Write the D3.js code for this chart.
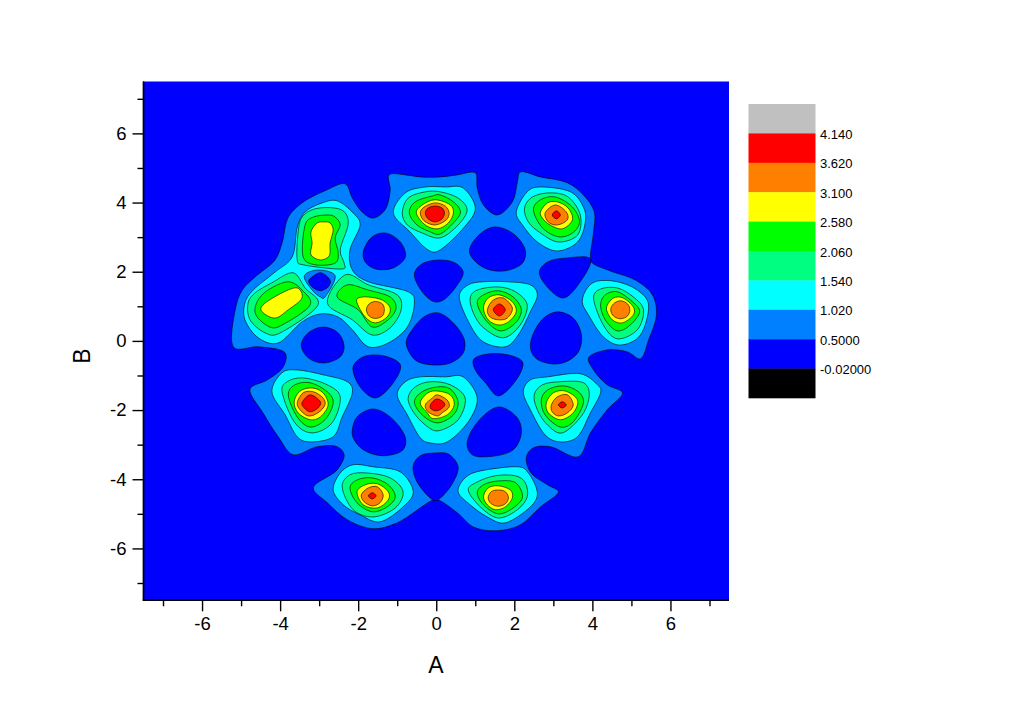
<!DOCTYPE html>
<html><head><meta charset="utf-8">
<script src="https://cdn.jsdelivr.net/npm/d3@7"></script>
<style>html,body{margin:0;padding:0;background:#fff}svg{display:block}text{font-family:"Liberation Sans",Arial,sans-serif;fill:#000}</style>
</head><body><svg id="c" width="1024" height="723"></svg>
<script>
// Contour outlines, as [A, B] pairs.
const level050Outer = [[[-2.33,4.54],[-2.85,4.34],[-3.44,3.99],[-3.79,3.58],[-3.95,2.83],[-4.13,2.34],[-4.64,1.85],[-4.97,1.47],[-5.15,0.90],[-5.18,-0.20],[-4.56,-0.17],[-3.87,-0.35],[-3.92,-0.75],[-4.33,-1.13],[-4.77,-1.39],[-4.44,-2.08],[-4.05,-2.77],[-3.67,-3.29],[-3.05,-3.06],[-2.54,-3.06],[-2.36,-3.29],[-2.54,-3.73],[-3.15,-4.25],[-2.79,-4.68],[-2.28,-5.17],[-1.62,-5.43],[-1.00,-5.26],[-0.08,-4.60],[0.05,-4.60],[0.54,-4.97],[0.95,-5.38],[1.56,-5.49],[2.15,-5.32],[2.67,-4.80],[3.13,-4.36],[2.85,-4.16],[2.41,-3.79],[2.31,-3.35],[2.49,-3.09],[2.92,-3.06],[3.64,-3.35],[3.95,-2.66],[4.38,-1.99],[4.77,-1.50],[4.38,-1.27],[4.03,-0.84],[3.90,-0.49],[4.38,-0.26],[4.90,-0.32],[5.23,-0.52],[5.44,0.03],[5.64,0.75],[5.54,1.33],[5.10,1.76],[4.46,2.02],[4.00,2.25],[3.95,2.37],[4.03,3.15],[4.05,3.73],[3.77,4.22],[3.36,4.57],[2.67,4.74],[2.15,4.88],[2.08,4.60],[1.95,4.02],[1.56,3.64],[1.21,3.93],[1.05,4.42],[1.00,4.86],[0.54,4.80],[0.10,4.74],[-0.41,4.74],[-0.79,4.80],[-1.21,4.80],[-1.18,4.36],[-1.31,3.79],[-1.62,3.55],[-1.90,3.73],[-2.15,4.13]]];
const level050Holes = [
[[-1.87,2.57],[-1.64,3.01],[-1.31,3.12],[-0.92,2.86],[-0.79,2.43],[-1.10,2.11],[-1.56,2.08],[-1.82,2.28]],
[[-0.56,1.94],[-0.36,2.23],[0.10,2.34],[0.49,2.25],[0.69,1.99],[0.54,1.62],[0.18,1.18],[-0.05,1.13],[-0.36,1.42]],
[[0.85,2.57],[1.05,3.01],[1.46,3.29],[1.95,3.12],[2.28,2.63],[2.21,2.25],[1.72,2.02],[1.18,2.14]],
[[2.64,1.99],[2.85,2.28],[3.36,2.40],[3.95,2.37],[3.69,1.71],[3.26,1.24],[2.87,1.53]],
[[3.13,0.84],[3.51,0.66],[3.72,0.17],[3.64,-0.32],[3.31,-0.61],[2.92,-0.66],[2.54,-0.49],[2.41,-0.17],[2.56,0.38],[2.82,0.72]],
[[-0.77,-0.06],[-0.62,0.32],[-0.28,0.72],[0.05,0.81],[0.41,0.55],[0.72,0.03],[0.69,-0.35],[0.36,-0.64],[-0.15,-0.69],[-0.54,-0.55]],
[[0.95,-0.55],[1.21,-0.40],[1.82,-0.40],[2.21,-0.61],[2.10,-1.04],[1.59,-1.59],[1.26,-1.21],[1.00,-0.84]],
[[-2.13,-0.75],[-1.87,-0.46],[-1.36,-0.43],[-0.92,-0.69],[-1.10,-1.21],[-1.56,-1.65],[-1.95,-1.33]],
[[-3.46,-0.12],[-3.28,0.23],[-2.90,0.40],[-2.51,0.23],[-2.36,-0.17],[-2.46,-0.46],[-2.90,-0.64],[-3.28,-0.49]],
[[-2.15,-2.57],[-2.03,-2.20],[-1.62,-1.97],[-1.18,-2.20],[-0.79,-2.80],[-0.85,-3.15],[-1.36,-3.32],[-1.87,-3.15],[-2.13,-2.80]],
[[0.79,-3.01],[1.00,-2.43],[1.59,-1.91],[2.08,-2.23],[2.18,-2.66],[1.97,-3.15],[1.31,-3.35],[0.92,-3.29]],
[[-0.59,-3.61],[-0.41,-3.32],[0,-3.24],[0.31,-3.27],[0.56,-3.64],[0.36,-4.22],[0.03,-4.60],[-0.08,-4.60],[-0.49,-4.08]]
];
const level102 = [
[[-2.54,4.05],[-2.92,3.99],[-3.36,3.73],[-3.56,3.29],[-3.69,2.43],[-4.13,1.99],[-4.69,1.47],[-4.90,1.10],[-4.90,0.61],[-4.56,0.09],[-4.05,-0.06],[-3.44,0.55],[-2.97,0.78],[-2.51,0.69],[-2.15,0.32],[-1.74,-0.17],[-1.23,-0.06],[-0.74,0.40],[-0.56,1.10],[-0.72,1.42],[-1.74,1.71],[-2.15,2.05],[-2.21,2.63],[-1.95,3.35],[-2.13,3.70]],
[[-1.10,3.70],[-0.79,4.28],[-0.28,4.45],[0.23,4.45],[0.69,4.42],[1.00,3.84],[0.72,3.29],[0.10,2.63],[-0.21,2.63],[-0.67,3.15]],
[[2.05,3.73],[2.33,4.31],[2.67,4.45],[3.44,4.31],[3.77,3.87],[3.82,3.44],[3.62,2.86],[3.10,2.60],[2.59,2.86],[2.21,3.35]],
[[0.59,1.27],[0.82,1.62],[1.21,1.71],[1.82,1.71],[2.41,1.62],[2.59,1.33],[2.41,0.84],[2.10,0.17],[1.77,-0.17],[1.21,-0.03],[0.87,0.46]],
[[3.74,1.13],[3.87,1.53],[4.13,1.73],[4.64,1.71],[5.15,1.47],[5.44,1.04],[5.23,0.17],[4.72,-0.12],[4.28,0.12],[3.90,0.75]],
[[-4.21,-1.47],[-3.95,-0.92],[-3.56,-0.84],[-2.90,-0.98],[-2.28,-1.18],[-2.15,-1.50],[-2.41,-2.20],[-2.64,-2.77],[-3.23,-2.92],[-3.56,-2.77],[-3.87,-2.14]],
[[-1.00,-1.56],[-0.79,-1.18],[-0.41,-1.04],[0.23,-1.04],[0.69,-1.04],[1.05,-1.65],[0.82,-2.34],[0.28,-2.92],[-0.15,-2.95],[-0.41,-2.80],[-0.74,-2.14]],
[[2.23,-1.47],[2.41,-1.13],[2.85,-1.04],[3.69,-0.95],[4.13,-1.27],[4.21,-1.50],[3.95,-2.08],[3.62,-2.77],[3.18,-2.92],[2.79,-2.72],[2.41,-1.99]],
[[-2.64,-4.31],[-2.46,-3.82],[-2.13,-3.58],[-1.62,-3.64],[-0.92,-3.79],[-0.59,-4.36],[-0.85,-4.80],[-1.44,-5.23],[-1.95,-5.03],[-2.38,-4.74]],
[[0.56,-4.36],[0.74,-3.96],[1.13,-3.76],[2.08,-3.64],[2.36,-3.82],[2.59,-4.39],[2.41,-4.80],[1.77,-5.26],[1.31,-5.09],[0.87,-4.74]]
];
const pocket050 = [[[-3.38,1.88],[-3.03,2.05],[-2.59,1.88],[-2.85,1.27],[-2.97,1.27],[-3.18,1.47]]];
const pocketHole = [[[-3.26,1.76],[-2.97,1.97],[-2.72,1.76],[-2.77,1.56],[-2.97,1.45],[-3.18,1.56]]];
const level154 = [
[[-2.59,3.84],[-3.10,3.82],[-3.44,3.58],[-3.54,3.12],[-3.56,2.34],[-3.41,2.20],[-2.41,2.08],[-2.36,2.25],[-2.46,2.63],[-2.26,3.35],[-2.33,3.70]],
[[-3.67,1.97],[-4.21,1.68],[-4.64,1.39],[-4.82,1.10],[-4.77,0.61],[-4.38,0.23],[-4.00,0.23],[-3.03,1.04],[-3.36,1.53]],
[[-2.33,1.91],[-2.79,1.10],[-2.15,0.61],[-1.64,0.17],[-1.18,0.38],[-0.90,0.90],[-1.00,1.33],[-1.74,1.62]],
[[-0.87,3.70],[-0.72,4.13],[-0.28,4.31],[0.10,4.31],[0.56,4.13],[0.79,3.79],[0.56,3.35],[0.10,2.98],[-0.36,3.12],[-0.74,3.35]],
[[2.26,3.84],[2.46,4.16],[2.92,4.28],[3.38,4.16],[3.69,3.64],[3.62,3.06],[3.13,2.86],[2.67,3.12],[2.36,3.44]],
[[0.87,1.24],[1.05,1.47],[1.59,1.56],[2.03,1.42],[2.33,1.04],[2.15,0.46],[1.72,0.09],[1.21,0.38],[0.95,0.81]],
[[4.03,1.24],[4.21,1.50],[4.64,1.53],[5.05,1.27],[5.31,0.90],[5.15,0.32],[4.64,0.06],[4.28,0.46]],
[[-3.95,-1.47],[-3.82,-1.18],[-3.41,-1.07],[-2.79,-1.27],[-2.46,-1.62],[-2.67,-2.37],[-3.18,-2.66],[-3.62,-2.37]],
[[-0.72,-1.65],[-0.54,-1.33],[-0.15,-1.18],[0.36,-1.27],[0.74,-1.65],[0.56,-2.28],[0.05,-2.60],[-0.28,-2.43],[-0.59,-2.05]],
[[2.51,-1.56],[2.72,-1.27],[3.18,-1.18],[3.77,-1.21],[3.92,-1.56],[3.74,-2.14],[3.23,-2.66],[2.85,-2.43],[2.59,-1.99]],
[[-2.41,-4.22],[-2.21,-3.87],[-1.77,-3.82],[-1.18,-3.96],[-0.85,-4.36],[-1.05,-4.83],[-1.62,-5.09],[-2.13,-4.88]],
[[0.82,-4.31],[1.05,-4.08],[1.51,-3.90],[2.03,-3.90],[2.28,-4.10],[2.33,-4.51],[2.08,-4.88],[1.59,-5.12],[1.13,-4.80]]
];
const level206 = [
[[-2.77,3.64],[-3.15,3.58],[-3.36,3.35],[-3.41,2.43],[-3.10,2.20],[-2.59,2.25],[-2.51,2.54],[-2.59,2.98],[-2.46,3.35],[-2.59,3.58]],
[[-3.79,1.71],[-4.31,1.47],[-4.59,1.13],[-4.62,0.75],[-4.26,0.40],[-3.95,0.46],[-3.23,1.04],[-3.44,1.47]],
[[-2.28,1.62],[-2.54,1.27],[-2.00,0.90],[-1.64,0.40],[-1.23,0.61],[-1.03,0.95],[-1.18,1.27],[-1.74,1.47]],
[[-0.69,3.70],[-0.54,4.02],[-0.10,4.19],[0.10,4.22],[0.44,4.02],[0.62,3.73],[0.44,3.41],[0.10,3.09],[-0.15,3.15],[-0.49,3.35]],
[[2.49,3.79],[2.67,4.08],[3.05,4.16],[3.49,3.87],[3.67,3.44],[3.49,3.12],[3.13,3.01],[2.72,3.27]],
[[1.05,1.10],[1.21,1.33],[1.59,1.45],[1.97,1.27],[2.18,0.90],[2.03,0.52],[1.64,0.29],[1.26,0.61]],
[[4.21,1.04],[4.33,1.33],[4.64,1.42],[5.03,1.13],[5.21,0.84],[4.97,0.46],[4.64,0.29],[4.33,0.61]],
[[-3.79,-1.56],[-3.62,-1.27],[-3.23,-1.21],[-2.79,-1.47],[-2.64,-1.79],[-2.85,-2.28],[-3.23,-2.49],[-3.56,-2.20]],
[[-0.56,-1.76],[-0.36,-1.47],[0.03,-1.33],[0.36,-1.39],[0.56,-1.76],[0.44,-2.14],[0.03,-2.37],[-0.36,-2.14]],
[[2.69,-1.71],[2.85,-1.42],[3.26,-1.30],[3.64,-1.47],[3.77,-1.79],[3.51,-2.34],[3.18,-2.49],[2.79,-2.14]],
[[-2.21,-4.25],[-2.03,-4.02],[-1.64,-3.96],[-1.23,-4.16],[-1.05,-4.51],[-1.26,-4.80],[-1.64,-4.94],[-2.03,-4.68]],
[[1.05,-4.39],[1.21,-4.16],[1.59,-4.05],[2.03,-4.10],[2.21,-4.51],[1.97,-4.83],[1.59,-5.00],[1.21,-4.74]]
];
const level258 = [
[[-2.85,3.44],[-3.05,3.41],[-3.21,3.15],[-3.18,2.83],[-3.21,2.49],[-2.97,2.34],[-2.74,2.46],[-2.72,2.83],[-2.64,3.21],[-2.72,3.41]],
[[-3.56,1.53],[-3.95,1.39],[-4.44,1.04],[-4.46,0.84],[-4.13,0.66],[-3.79,0.90],[-3.44,1.24]],
[[-2.00,1.24],[-2.03,1.10],[-1.82,0.69],[-1.56,0.52],[-1.26,0.69],[-1.18,0.95],[-1.38,1.18],[-1.74,1.27]],
[[-0.51,3.70],[-0.36,3.93],[-0.03,4.08],[0.36,3.93],[0.44,3.70],[0.31,3.41],[0.03,3.24],[-0.28,3.35]],
[[2.67,3.73],[2.85,3.99],[3.10,4.02],[3.38,3.84],[3.49,3.50],[3.23,3.24],[2.92,3.35],[2.72,3.55]],
[[1.21,0.95],[1.33,1.24],[1.62,1.33],[1.95,1.13],[2.05,0.84],[1.85,0.55],[1.59,0.46],[1.33,0.61]],
[[4.36,0.95],[4.54,1.24],[4.79,1.24],[5.05,0.98],[5.05,0.75],[4.77,0.52],[4.51,0.61]],
[[-3.64,-1.76],[-3.49,-1.45],[-3.18,-1.36],[-2.90,-1.50],[-2.77,-1.85],[-2.97,-2.20],[-3.23,-2.28],[-3.54,-2.08]],
[[-0.41,-1.79],[-0.21,-1.50],[0.03,-1.45],[0.36,-1.56],[0.46,-1.85],[0.28,-2.14],[-0.08,-2.25],[-0.23,-2.08]],
[[2.82,-1.79],[3.00,-1.50],[3.31,-1.45],[3.62,-1.71],[3.51,-2.08],[3.18,-2.28],[2.87,-2.08]],
[[-2.03,-4.36],[-1.82,-4.16],[-1.51,-4.13],[-1.23,-4.36],[-1.23,-4.60],[-1.51,-4.83],[-1.87,-4.74]],
[[1.21,-4.51],[1.33,-4.25],[1.59,-4.19],[1.90,-4.31],[1.95,-4.54],[1.77,-4.80],[1.51,-4.88],[1.31,-4.74]]
];
const level310 = [
[[-1.79,0.90],[-1.72,1.07],[-1.56,1.14],[-1.38,1.07],[-1.33,0.90],[-1.38,0.72],[-1.56,0.65],[-1.72,0.72]],
[[-0.41,3.70],[-0.31,3.87],[-0.03,3.99],[0.23,3.90],[0.33,3.70],[0.26,3.50],[-0.03,3.35],[-0.31,3.47]],
[[2.79,3.70],[3.05,3.93],[3.33,3.73],[3.36,3.50],[3.10,3.35],[2.87,3.44]],
[[1.31,0.90],[1.46,1.18],[1.72,1.24],[1.95,0.95],[1.82,0.66],[1.59,0.61],[1.38,0.69]],
[[4.47,0.90],[4.54,1.07],[4.72,1.16],[4.90,1.07],[4.96,0.90],[4.90,0.72],[4.72,0.64],[4.54,0.72]],
[[-3.56,-1.79],[-3.41,-1.50],[-3.15,-1.47],[-2.90,-1.65],[-2.85,-1.85],[-3.03,-2.08],[-3.28,-2.17],[-3.49,-1.99]],
[[-0.28,-1.85],[-0.10,-1.65],[0.03,-1.56],[0.28,-1.71],[0.33,-1.91],[0.15,-2.08],[0.03,-2.17],[-0.21,-2.05]],
[[2.95,-1.85],[3.10,-1.62],[3.36,-1.56],[3.51,-1.85],[3.36,-2.08],[3.13,-2.17],[2.97,-2.05]],
[[-1.92,-4.45],[-1.74,-4.25],[-1.51,-4.22],[-1.36,-4.45],[-1.44,-4.68],[-1.64,-4.77],[-1.85,-4.65]],
[[1.33,-4.54],[1.41,-4.36],[1.59,-4.31],[1.77,-4.36],[1.85,-4.54],[1.77,-4.71],[1.59,-4.78],[1.41,-4.71]]
];
const level362 = [
[[-0.28,3.70],[-0.21,3.84],[-0.03,3.90],[0.15,3.84],[0.21,3.70],[0.15,3.53],[-0.03,3.44],[-0.21,3.53]],
[[2.97,3.64],[3.08,3.76],[3.18,3.64],[3.08,3.53]],
[[1.46,0.90],[1.62,1.07],[1.77,0.90],[1.62,0.72]],
[[-3.44,-1.79],[-3.23,-1.56],[-2.97,-1.76],[-3.03,-1.94],[-3.23,-2.05],[-3.38,-1.94]],
[[-0.15,-1.85],[0,-1.68],[0.18,-1.76],[0.21,-1.88],[0.03,-2.02],[-0.13,-1.97]],
[[3.13,-1.85],[3.23,-1.76],[3.33,-1.85],[3.23,-1.94]],
[[-1.74,-4.48],[-1.64,-4.39],[-1.54,-4.48],[-1.64,-4.57]]
];

const xTicks = [-6,-4,-2,0,2,4,6];
const yTicks = [-6,-4,-2,0,2,4,6];
const minorTicks = [-7,-5,-3,-1,1,3,5,7];
const legendColors = ["#c0c0c0","#ff0000","#ff8000","#ffff00","#00ff00","#00ff80","#00ffff","#0080ff","#0000ff","#000000"];
const legendLabels = ["4.140","3.620","3.100","2.580","2.060","1.540","1.020","0.5000","-0.02000"];
const BLUE="#0000ff", AZURE="#0080ff", CYAN="#00ffff", MINT="#00ff80", GREEN="#00ff00", YELLOW="#ffff00", ORANGE="#ff8000", RED="#ff0000";

const svg = d3.select("#c");
const x = d3.scaleLinear().domain([-7.5,7.5]).range([143.5,729]);
const y = d3.scaleLinear().domain([-7.5,7.5]).range([600.3,81.5]);
const sharpLine = d3.line().x(d=>x(d[0])).y(d=>y(d[1])).curve(d3.curveCatmullRomClosed.alpha(0.5));
const roundLine = d3.line().x(d=>x(d[0])).y(d=>y(d[1])).curve(d3.curveCatmullRomClosed.alpha(0.1));

svg.append("rect").attr("x",x(-7.5)).attr("y",y(7.5)).attr("width",x(7.5)-x(-7.5)).attr("height",y(-7.5)-y(7.5)).attr("fill",BLUE);

const layers = [[level050Outer,AZURE,sharpLine],[level050Holes,BLUE,sharpLine],[level102,CYAN,roundLine],[pocket050,AZURE,roundLine],[pocketHole,BLUE,roundLine],[level154,MINT,roundLine],[level206,GREEN,roundLine],[level258,YELLOW,roundLine],[level310,ORANGE,roundLine],[level362,RED,roundLine]];
layers.forEach(([shapes,color,path])=>{
  svg.append("g").selectAll("path").data(shapes).join("path")
    .attr("d",path).attr("fill",color).attr("stroke","#000").attr("stroke-width",0.6);
});

// axes
const ax = svg.append("g").attr("transform",`translate(0,${y(-7.5)})`).call(d3.axisBottom(x).tickValues(xTicks).tickSize(11).tickPadding(6).tickFormat(d3.format("d")));
const ay = svg.append("g").attr("transform",`translate(${x(-7.5)},0)`).call(d3.axisLeft(y).tickValues(yTicks).tickSize(11).tickPadding(6).tickFormat(d3.format("d")));
const axm = svg.append("g").attr("transform",`translate(0,${y(-7.5)})`).call(d3.axisBottom(x).tickValues(minorTicks).tickSize(6).tickFormat(""));
const aym = svg.append("g").attr("transform",`translate(${x(-7.5)},0)`).call(d3.axisLeft(y).tickValues(minorTicks).tickSize(6).tickFormat(""));
[ax,ay,axm,aym].forEach(g=>{
  g.selectAll("path.domain").attr("stroke","#000").attr("stroke-width",1.4).attr("d", g===ax||g===axm ? `M${x(-7.5)-0.7},0H${x(7.5)}` : `M0,${y(-7.5)}V${y(7.5)}`);
  g.selectAll("line").attr("stroke","#000").attr("stroke-width",1.4);
  g.selectAll("text").attr("font-size",18.5).attr("font-family",'"Liberation Sans",Arial,sans-serif').attr("fill","#000");
});
ax.selectAll("text").text(d=>d<0?"-"+Math.abs(d):d);
ay.selectAll("text").text(d=>d<0?"-"+Math.abs(d):d);

svg.append("text").attr("x",436).attr("y",673).attr("text-anchor","middle").attr("font-size",23).text("A");
svg.append("text").attr("transform","translate(90,356) rotate(-90)").attr("text-anchor","middle").attr("font-size",23).text("B");

// colour scale
const ly = d3.scaleBand().domain(d3.range(legendColors.length)).range([104,398]);
const leg = svg.append("g");
leg.selectAll("rect").data(legendColors).join("rect")
  .attr("x",748.5).attr("width",67).attr("y",(d,i)=>ly(i)).attr("height",ly.bandwidth()+0.3).attr("fill",d=>d);
leg.selectAll("text").data(legendLabels).join("text")
  .attr("x",820).attr("y",(d,i)=>ly(i+1)+5.5).attr("font-size",13).text(d=>d);
</script></body></html>
